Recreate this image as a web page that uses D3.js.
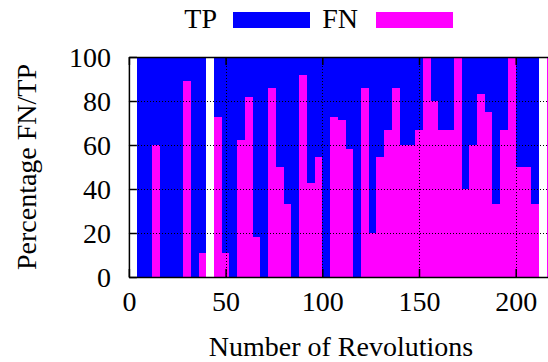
<!DOCTYPE html>
<html><head><meta charset="utf-8">
<script src="https://cdn.jsdelivr.net/npm/d3@7"></script>
<style>
body{margin:0;background:#fff;overflow:hidden}
svg{display:block}
text{font-family:"Liberation Serif","Times New Roman",serif;fill:#000}
</style>
</head><body><svg id="chart" width="548" height="362"></svg>
<script>
// Bin start (number of revolutions), each bin 4 revolutions wide
const binStart = [0,4,8,12,16,20,24,28,32,36,40,44,48,52,56,60,64,68,72,76,80,84,88,92,96,100,104,108,112,116,120,124,128,132,136,140,144,148,152,156,160,164,168,172,176,180,184,188,192,196,200,204,208,212,216];
const binWidth = 4;
// Percentage FN (bottom, magenta) and TP (top, blue); null = no data
const fnPct = [null,0,0,60,0,0,0,88.9,0,11.1,null,72.7,11.1,0,62.5,81.8,18.2,0,85.7,50,33.3,0,91.7,42.9,54.5,0,72.7,71.4,58.3,0,85.7,20,54.5,66.7,85.7,60,60,66.7,100,80,66.7,66.7,100,40,60,83.3,75,33.3,66.7,100,50,50,33.3,null,100];
const tpPct = [null,100,100,40,100,100,100,11.1,100,88.9,null,27.3,88.9,100,37.5,18.2,81.8,100,14.3,50,66.7,100,8.3,57.1,45.5,100,27.3,28.6,41.7,100,14.3,80,45.5,33.3,14.3,40,40,33.3,0,20,33.3,33.3,0,60,40,16.7,25,66.7,33.3,0,50,50,66.7,null,0];
const xTicks = [0,50,100,150,200];
const yTicks = [0,20,40,60,80,100];
const seriesNames = ["TP","FN"];
const colors = {TP:"#0000ff", FN:"#ff00ff"};

const svg = d3.select("#chart");
const x = d3.scaleLinear().domain([0,220]).range([128.9, 128.9 + 220*1.934]);
const y = d3.scaleLinear().domain([0,100]).range([277,57]);

const rows = binStart.map((s,i)=>({start:s, FN:fnPct[i], TP:tpPct[i]})).filter(d=>d.FN!==null);
const stack = d3.stack().keys(["FN","TP"]);
const layers = stack(rows);

const gBars = svg.append("g").attr("shape-rendering","crispEdges");
gBars.selectAll("g").data(layers).join("g")
  .attr("fill", d=>colors[d.key])
  .selectAll("rect").data(d=>d).join("rect")
  .attr("x", d=>x(d.data.start))
  .attr("width", d=>x(d.data.start+binWidth)-x(d.data.start))
  .attr("y", d=>y(d[1]))
  .attr("height", d=>y(d[0])-y(d[1]));

// grid
const grid = svg.append("g").attr("stroke","#000").attr("stroke-width",1)
  .attr("stroke-dasharray","1,2").attr("shape-rendering","crispEdges");
grid.selectAll(".gx").data(xTicks.filter(v=>v>0)).join("line")
  .attr("x1",d=>Math.round(x(d))+0.5).attr("x2",d=>Math.round(x(d))+0.5)
  .attr("y1",y(100)).attr("y2",y(0));
grid.selectAll(".gy").data(yTicks.filter(v=>v>0&&v<100)).join("line")
  .attr("y1",d=>Math.round(y(d))+0.5).attr("y2",d=>Math.round(y(d))+0.5)
  .attr("x1",x(0)).attr("x2",x(220));

// axes
const fs = "28px";
const ax = svg.append("g").attr("transform",`translate(0,${y(0)})`)
  .call(d3.axisBottom(x).tickValues(xTicks).tickSize(-8).tickSizeOuter(0).tickPadding(14));
const ay = svg.append("g").attr("transform",`translate(${x(0)},0)`)
  .call(d3.axisLeft(y).tickValues(yTicks).tickSize(-8).tickSizeOuter(0).tickPadding(18));
const at = svg.append("g").attr("transform",`translate(0,${y(100)})`)
  .call(d3.axisTop(x).tickValues(xTicks).tickSize(-8).tickSizeOuter(0).tickFormat(""));
[ax,ay,at].forEach(g=>{
  g.attr("font-family",null).attr("font-size",null);
  g.selectAll("path.domain").attr("stroke","#000").attr("stroke-width",1.5);
  g.selectAll(".tick line").attr("stroke","#000").attr("stroke-width",1.5);
  g.selectAll(".tick text").style("font-size",fs).attr("fill","#000");
});
ay.selectAll(".tick text").attr("dy","0.33em");

// axis titles
svg.append("text").attr("x",341).attr("y",356).attr("text-anchor","middle")
  .style("font-size",fs).text("Number of Revolutions");
svg.append("text").attr("transform",`translate(36,${(y(0)+y(100))/2}) rotate(-90)`)
  .attr("text-anchor","middle").style("font-size",fs).text("Percentage FN/TP");

// legend
const legend = [
  {name:seriesNames[0], tx:217, rx:233},
  {name:seriesNames[1], tx:358, rx:376}
];
const lg = svg.append("g");
lg.selectAll("text").data(legend).join("text")
  .attr("x",d=>d.tx).attr("y",28).attr("text-anchor","end").style("font-size",fs).text(d=>d.name);
lg.selectAll("rect").data(legend).join("rect")
  .attr("x",d=>d.rx).attr("y",12).attr("width",77).attr("height",16)
  .attr("fill",d=>colors[d.name]);
</script>
</body></html>
